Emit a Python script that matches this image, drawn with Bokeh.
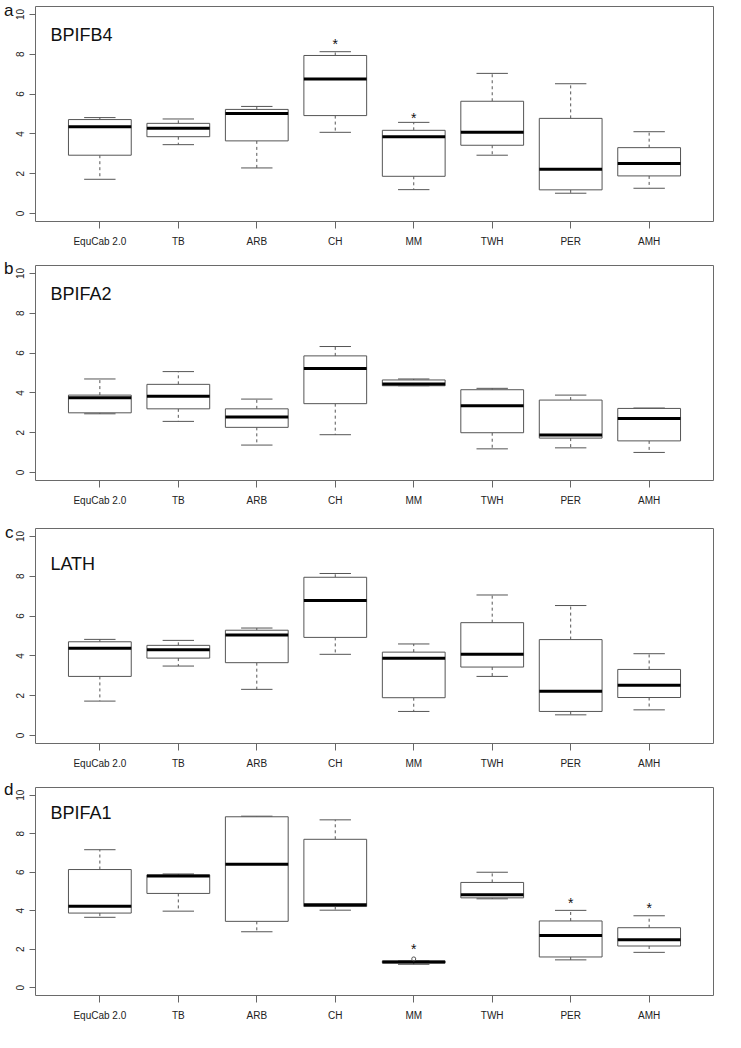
from bokeh.plotting import figure
from bokeh.models import Range1d, FixedTicker, Label, ColumnDataSource, LinearAxis
from bokeh.layouts import column
from bokeh.embed import file_html
from bokeh.resources import INLINE

categories = ["EquCab 2.0", "TB", "ARB", "CH", "MM", "TWH", "PER", "AMH"]
y_ticks = [0, 2, 4, 6, 8, 10]

# Panel a: BPIFB4
bpifb4_lo  = [1.72, 3.46, 2.29, 4.08, 1.20, 2.93, 1.02, 1.27]
bpifb4_q1  = [2.93, 3.86, 3.65, 4.92, 1.87, 3.43, 1.19, 1.89]
bpifb4_med = [4.36, 4.28, 5.03, 6.76, 3.86, 4.08, 2.22, 2.51]
bpifb4_q3  = [4.72, 4.53, 5.23, 7.94, 4.18, 5.64, 4.78, 3.31]
bpifb4_hi  = [4.82, 4.75, 5.38, 8.13, 4.58, 7.04, 6.52, 4.11]
bpifb4_star_cat = ["CH", "MM"]
bpifb4_star_y   = [8.85, 5.17]

# Panel b: BPIFA2
bpifa2_lo  = [2.95, 2.57, 1.38, 1.90, 4.36, 1.19, 1.24, 1.01]
bpifa2_q1  = [3.00, 3.20, 2.27, 3.46, 4.36, 2.00, 1.73, 1.59]
bpifa2_med = [3.76, 3.83, 2.79, 5.22, 4.45, 3.36, 1.88, 2.72]
bpifa2_q3  = [3.89, 4.43, 3.20, 5.86, 4.65, 4.16, 3.64, 3.22]
bpifa2_hi  = [4.70, 5.07, 3.69, 6.33, 4.70, 4.23, 3.89, 3.24]

# Panel c: LATH
lath_lo  = [1.73, 3.49, 2.32, 4.08, 1.21, 2.97, 1.04, 1.29]
lath_q1  = [2.97, 3.89, 3.66, 4.93, 1.90, 3.44, 1.21, 1.91]
lath_med = [4.38, 4.31, 5.05, 6.78, 3.88, 4.08, 2.23, 2.52]
lath_q3  = [4.71, 4.53, 5.29, 7.95, 4.19, 5.67, 4.82, 3.32]
lath_hi  = [4.83, 4.78, 5.40, 8.14, 4.60, 7.06, 6.53, 4.11]

# Panel d: BPIFA1
bpifa1_lo  = [3.66, 3.98, 2.91, 4.03, 1.22, 4.62, 1.45, 1.84]
bpifa1_q1  = [3.88, 4.90, 3.45, 4.22, 1.29, 4.67, 1.60, 2.17]
bpifa1_med = [4.24, 5.81, 6.41, 4.31, 1.34, 4.83, 2.72, 2.50]
bpifa1_q3  = [6.14, 5.86, 8.88, 7.71, 1.39, 5.47, 3.47, 3.12]
bpifa1_hi  = [7.17, 5.91, 8.91, 8.72, 1.40, 6.00, 4.02, 3.74]
bpifa1_out_cat = ["MM"]
bpifa1_out_y   = [1.50]
bpifa1_star_cat = ["MM", "PER", "AMH"]
bpifa1_star_y   = [2.38, 4.76, 4.50]

FONT = "Liberation Sans"
W = 725


def make_panel(title, letter, letter_y, lo, q1, med, q3, hi, height, top, bottom, title_y,
               star_cat=None, star_y=None, out_cat=None, out_y=None):
    p = figure(width=W, height=height, output_backend="svg", toolbar_location=None,
               x_range=Range1d(0.18, 8.82), y_range=Range1d(-0.4, 10.4),
               min_border_left=35, min_border_right=12,
               min_border_top=top, min_border_bottom=bottom)
    p.background_fill_color = "white"
    p.border_fill_color = "white"
    p.outline_line_color = "#6a6a6a"
    p.outline_line_width = 1
    p.xgrid.visible = False
    p.ygrid.visible = False

    xs = [i + 1 for i in range(len(categories))]
    src = ColumnDataSource(dict(
        x=xs, left=[x - 0.4 for x in xs], right=[x + 0.4 for x in xs],
        cl=[x - 0.2 for x in xs], cr=[x + 0.2 for x in xs],
        lo=lo, q1=q1, med=med, q3=q3, hi=hi))

    # whiskers
    p.segment(x0="x", y0="q3", x1="x", y1="hi", source=src, line_color="#555555",
              line_width=1, line_dash="3 3")
    p.segment(x0="x", y0="q1", x1="x", y1="lo", source=src, line_color="#555555",
              line_width=1, line_dash="3 3")
    # staples
    p.segment(x0="cl", y0="hi", x1="cr", y1="hi", source=src, line_color="#555555", line_width=1)
    p.segment(x0="cl", y0="lo", x1="cr", y1="lo", source=src, line_color="#555555", line_width=1)
    # boxes
    p.quad(left="left", right="right", bottom="q1", top="q3", source=src,
           fill_color="white", line_color="#555555", line_width=1)
    # medians
    p.segment(x0="left", y0="med", x1="right", y1="med", source=src,
              line_color="black", line_width=3)

    if out_cat:
        p.scatter(x=[categories.index(c) + 1 for c in out_cat], y=out_y, marker="circle",
                  size=4, fill_color=None, line_color="#555555", line_width=1)

    if star_cat:
        p.text(x=[categories.index(c) + 1 for c in star_cat], y=star_y,
               text=["*"] * len(star_cat), text_align="center", text_baseline="alphabetic",
               y_offset=7, text_font_size="14px", text_color="#111111",
               text_font={"value": FONT})

    p.add_layout(Label(x=0.37, y=title_y, text=title, text_font=FONT,
                       text_font_size="18px", text_color="#111111",
                       text_baseline="alphabetic"))

    # axes
    p.xaxis.ticker = FixedTicker(ticks=xs)
    p.xaxis.major_label_overrides = {x: c for x, c in zip(xs, categories)}
    p.xaxis.axis_line_color = None
    p.xaxis.major_tick_out = 7
    p.xaxis.major_tick_in = 0
    p.xaxis.minor_tick_line_color = None
    p.xaxis.major_tick_line_color = "#666666"
    p.xaxis.major_label_text_font = FONT
    p.xaxis.major_label_text_font_size = "10px"
    p.xaxis.major_label_text_color = "#222222"
    p.xaxis.major_label_standoff = 7

    p.yaxis.ticker = FixedTicker(ticks=y_ticks)
    p.yaxis.axis_line_color = None
    p.yaxis.major_tick_out = 6
    p.yaxis.major_tick_in = 0
    p.yaxis.minor_tick_line_color = None
    p.yaxis.major_tick_line_color = "#666666"
    p.yaxis.major_label_orientation = "parallel"
    p.yaxis.major_label_text_font = FONT
    p.yaxis.major_label_text_font_size = "10px"
    p.yaxis.major_label_text_color = "#222222"
    p.yaxis.major_label_standoff = 5

    # panel letter as an extra left axis carrying a single label
    la = LinearAxis(ticker=FixedTicker(ticks=[letter_y]),
                    major_label_overrides={letter_y: letter})
    la.axis_line_color = None
    la.major_tick_line_color = None
    la.minor_tick_line_color = None
    la.major_tick_out = 0
    la.major_tick_in = 0
    la.major_label_standoff = 0
    la.major_label_orientation = "horizontal"
    la.major_label_text_font = FONT
    la.major_label_text_font_size = "17px"
    la.major_label_text_color = "#111111"
    p.add_layout(la, "left")
    return p


pa = make_panel("BPIFB4", "a", 10.2, bpifb4_lo, bpifb4_q1, bpifb4_med, bpifb4_q3, bpifb4_hi,
                258, 6, 37, 8.96, star_cat=bpifb4_star_cat, star_y=bpifb4_star_y)
pb = make_panel("BPIFA2", "b", 10.27, bpifa2_lo, bpifa2_q1, bpifa2_med, bpifa2_q3, bpifa2_hi,
                262, 7, 40, 8.97)
pc = make_panel("LATH", "c", 10.2, lath_lo, lath_q1, lath_med, lath_q3, lath_hi,
                258, 8, 35, 8.64)
pd_ = make_panel("BPIFA1", "d", 10.3, bpifa1_lo, bpifa1_q1, bpifa1_med, bpifa1_q3, bpifa1_hi,
                 252, 9, 35, 9.07, star_cat=bpifa1_star_cat, star_y=bpifa1_star_y,
                 out_cat=bpifa1_out_cat, out_y=bpifa1_out_y)

layout = column(pa, pb, pc, pd_, spacing=0)
open("out.html", "w").write(file_html(layout, INLINE))
